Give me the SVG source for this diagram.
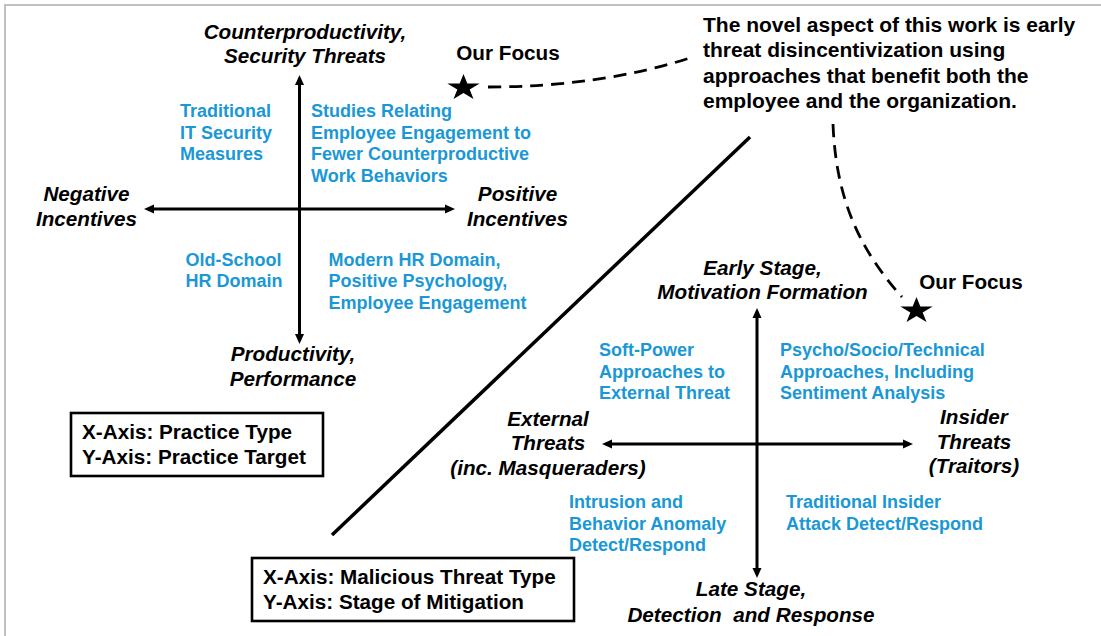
<svg xmlns="http://www.w3.org/2000/svg" width="1101" height="636" viewBox="0 0 1101 636">
<style>
text{font-family:"Liberation Sans",Arial,sans-serif;font-weight:bold}
.ax{font-size:20.7px;font-style:italic;fill:#000;text-anchor:middle}
.bl{font-size:18px;fill:#1a98d5}
.bk{font-size:20.7px;fill:#000}
.mid{text-anchor:middle}
.para{font-size:21px;fill:#000}
.axis{stroke:#000;stroke-width:3;fill:none;marker-start:url(#ah);marker-end:url(#ah)}
.dash{stroke:#000;stroke-width:2.8;fill:none;stroke-dasharray:13 8}
.box{fill:#fff;stroke:#000;stroke-width:2.6}
</style>
<defs>
<marker id="ah" viewBox="0 0 10 10" refX="6" refY="5" markerWidth="10" markerHeight="10" markerUnits="userSpaceOnUse" orient="auto-start-reverse"><path d="M0,0.5 L10,5 L0,9.5 z" fill="#000"/></marker>
<polygon id="star" points="0,-13.8 3.82,-4.26 16.17,-4.26 6.17,1.63 10,11.16 0,5.27 -10,11.16 -6.17,1.63 -16.17,-4.26 -3.82,-4.26" fill="#000"/>
</defs>
<rect x="5" y="5" width="1200" height="700" fill="#fff" stroke="#c0c0c0" stroke-width="2"/>

<g id="connectors">
<line class="axis" x1="299.5" y1="79" x2="299.5" y2="340"/>
<line class="axis" x1="148" y1="209" x2="451" y2="209"/>
<line class="axis" x1="757" y1="312" x2="757" y2="574"/>
<line class="axis" x1="606" y1="444" x2="909" y2="444"/>
<line x1="750" y1="137" x2="332" y2="535" stroke="#000" stroke-width="3.5"/>
<path class="dash" d="M488,87 Q600,87 693,57"/>
<path class="dash" d="M833,124 C836,200 860,250 902,297"/>
</g>

<g id="label-counterproductivity"><text class="ax" x="305" y="39">Counterproductivity,</text><text class="ax" x="305" y="63">Security Threats</text></g>
<g id="label-productivity"><text class="ax" x="293" y="361">Productivity,</text><text class="ax" x="293" y="386">Performance</text></g>
<g id="label-negative"><text class="ax" x="86.5" y="201">Negative</text><text class="ax" x="86.5" y="226">Incentives</text></g>
<g id="label-positive"><text class="ax" x="517.5" y="201">Positive</text><text class="ax" x="517.5" y="226">Incentives</text></g>
<g id="q1-tl"><text class="bl" x="180" y="117">Traditional</text><text class="bl" x="180" y="138.7">IT Security</text><text class="bl" x="180" y="160.3">Measures</text></g>
<g id="q1-tr"><text class="bl" x="311" y="117">Studies Relating</text><text class="bl" x="311" y="138.7">Employee Engagement to</text><text class="bl" x="311" y="160.3">Fewer Counterproductive</text><text class="bl" x="311" y="182">Work Behaviors</text></g>
<g id="q1-bl"><text class="bl" x="185.5" y="265.5">Old-School</text><text class="bl" x="185.5" y="287">HR Domain</text></g>
<g id="q1-br"><text class="bl" x="328.5" y="265.5">Modern HR Domain,</text><text class="bl" x="328.5" y="287">Positive Psychology,</text><text class="bl" x="328.5" y="308.5">Employee Engagement</text></g>

<g id="focus-1"><use href="#star" x="463.5" y="87.8"/><text class="bk mid" x="508" y="60">Our Focus</text></g>
<g id="novel-note"><text class="para" x="703" y="32">The novel aspect of this work is early</text><text class="para" x="703" y="57.3">threat disincentivization using</text><text class="para" x="703" y="82.6">approaches that benefit both the</text><text class="para" x="703" y="108">employee and the organization.</text></g>
<g id="focus-2"><use href="#star" x="916.5" y="310.8"/><text class="bk mid" x="971" y="289">Our Focus</text></g>

<g id="box-1"><rect class="box" x="71" y="413" width="252" height="63"/><text class="bk" x="82" y="439">X-Axis: Practice Type</text><text class="bk" x="82" y="464">Y-Axis: Practice Target</text></g>
<g id="box-2"><rect class="box" x="252" y="558" width="322" height="63"/><text class="bk" x="263" y="584">X-Axis: Malicious Threat Type</text><text class="bk" x="263" y="609">Y-Axis: Stage of Mitigation</text></g>

<g id="label-early"><text class="ax" x="762.5" y="275">Early Stage,</text><text class="ax" x="762.5" y="299">Motivation Formation</text></g>
<g id="label-late"><text class="ax" x="751" y="596">Late Stage,</text><text class="ax" x="751" y="622" style="white-space:pre">Detection  and Response</text></g>
<g id="label-external"><text class="ax" x="548" y="426">External</text><text class="ax" x="548" y="450">Threats</text><text class="ax" x="548" y="475">(inc. Masqueraders)</text></g>
<g id="label-insider"><text class="ax" x="974" y="424">Insider</text><text class="ax" x="974" y="449">Threats</text><text class="ax" x="974" y="473">(Traitors)</text></g>
<g id="q2-tl"><text class="bl" x="599" y="356">Soft-Power</text><text class="bl" x="599" y="377.5">Approaches to</text><text class="bl" x="599" y="399">External Threat</text></g>
<g id="q2-tr"><text class="bl" x="780" y="356">Psycho/Socio/Technical</text><text class="bl" x="780" y="377.5">Approaches, Including</text><text class="bl" x="780" y="399">Sentiment Analysis</text></g>
<g id="q2-bl"><text class="bl" x="569" y="508">Intrusion and</text><text class="bl" x="569" y="529.5">Behavior Anomaly</text><text class="bl" x="569" y="551">Detect/Respond</text></g>
<g id="q2-br"><text class="bl" x="786" y="508">Traditional Insider</text><text class="bl" x="786" y="529.5">Attack Detect/Respond</text></g>
</svg>
